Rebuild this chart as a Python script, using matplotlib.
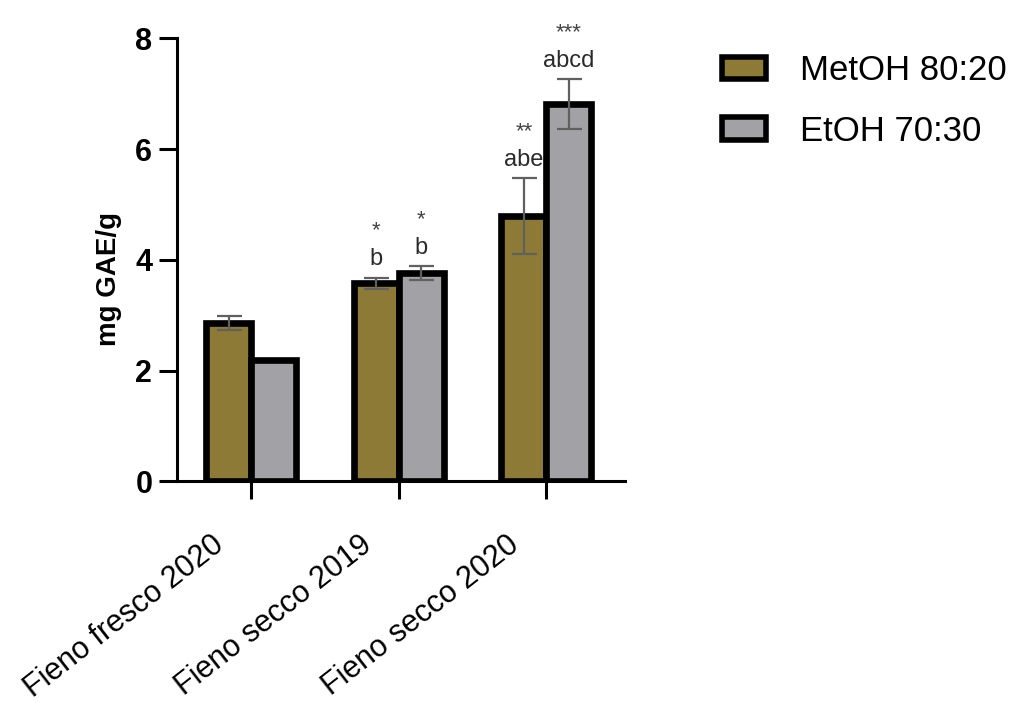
import numpy as np
import matplotlib.pyplot as plt
import matplotlib.transforms as mtransforms
from matplotlib.patches import Patch

plt.rcParams['font.family'] = ['Liberation Sans', 'DejaVu Sans']

categories = ["Fieno fresco 2020", "Fieno secco 2019", "Fieno secco 2020"]
series = ["MetOH 80:20", "EtOH 70:30"]
metoh = [2.86, 3.58, 4.79]
metoh_err = [0.12, 0.1, 0.68]
etoh = [2.19, 3.76, 6.81]
etoh_err = [0.0, 0.12, 0.45]
metoh_letters = ["", "b", "abe"]
metoh_stars = ["", "*", "**"]
etoh_letters = ["", "b", "abcd"]
etoh_stars = ["", "*", "***"]

olive = "#8c7a36"
grey = "#a2a2a6"

fig = plt.figure(figsize=(10.19, 7.09), dpi=100)
ax = fig.add_axes([0.174, 0.321, 0.439, 0.625])

x = np.arange(len(categories))
w = 0.305
ekw = dict(ecolor="#606060", elinewidth=1.6, capsize=9, capthick=1.6)
for xs, vals, errs, col in [(x - w / 2, metoh, metoh_err, olive), (x + w / 2, etoh, etoh_err, grey)]:
    ax.bar(xs, vals, w, color=col, edgecolor="black", linewidth=4.8, zorder=2)
    errs = np.array(errs)
    m = errs > 0
    ax.errorbar(xs[m], np.array(vals)[m], yerr=errs[m], fmt="none", zorder=3, **ekw)

for i in range(len(categories)):
    for xs, v, e, let, st in [(x[i] - w / 2, metoh[i], metoh_err[i], metoh_letters[i], metoh_stars[i]),
                              (x[i] + w / 2, etoh[i], etoh_err[i], etoh_letters[i], etoh_stars[i])]:
        if let:
            top = v + e
            ax.text(xs, top + 0.22, let, ha="center", va="baseline", fontsize=17, color="#2a2a2a")
            ax.text(xs, top + 0.75, st, ha="center", va="baseline", fontsize=16, color="#444444")

ax.set_xlim(-0.5, 2.53)
ax.set_ylim(0, 8)
ax.set_yticks([0, 2, 4, 6, 8])
ax.set_xticks(x)
ax.set_xticklabels([])
# category labels, shifted left of the ticks like the original
shift = mtransforms.ScaledTranslation(-40 / 100, -48 / 100, fig.dpi_scale_trans)
for i, cat in enumerate(categories):
    ax.text(x[i], 0, cat, rotation=38, ha="right", va="top", rotation_mode="anchor",
            fontsize=22, transform=ax.get_xaxis_transform() + shift)
for lab in ax.get_yticklabels():
    lab.set_fontweight("bold")
    lab.set_fontsize(22)
ax.set_ylabel("mg GAE/g", fontsize=20, fontweight="bold")
ax.yaxis.set_label_coords(-0.123, 0.456)

ax.spines["top"].set_visible(False)
ax.spines["right"].set_visible(False)
ax.spines["left"].set_linewidth(2.2)
ax.spines["bottom"].set_linewidth(2.2)
ax.tick_params(axis="y", length=13, width=2.2, pad=5)
ax.tick_params(axis="x", length=13, width=2.2, pad=14)

handles = [Patch(facecolor=olive, edgecolor="black", linewidth=4),
           Patch(facecolor=grey, edgecolor="black", linewidth=4)]
fig.legend(handles, series, loc="upper left", bbox_to_anchor=(0.678, 0.968), frameon=False,
           fontsize=25, handlelength=1.25, handleheight=0.6, handletextpad=1.0, labelspacing=0.8)

fig.savefig("out.png", dpi=100)
